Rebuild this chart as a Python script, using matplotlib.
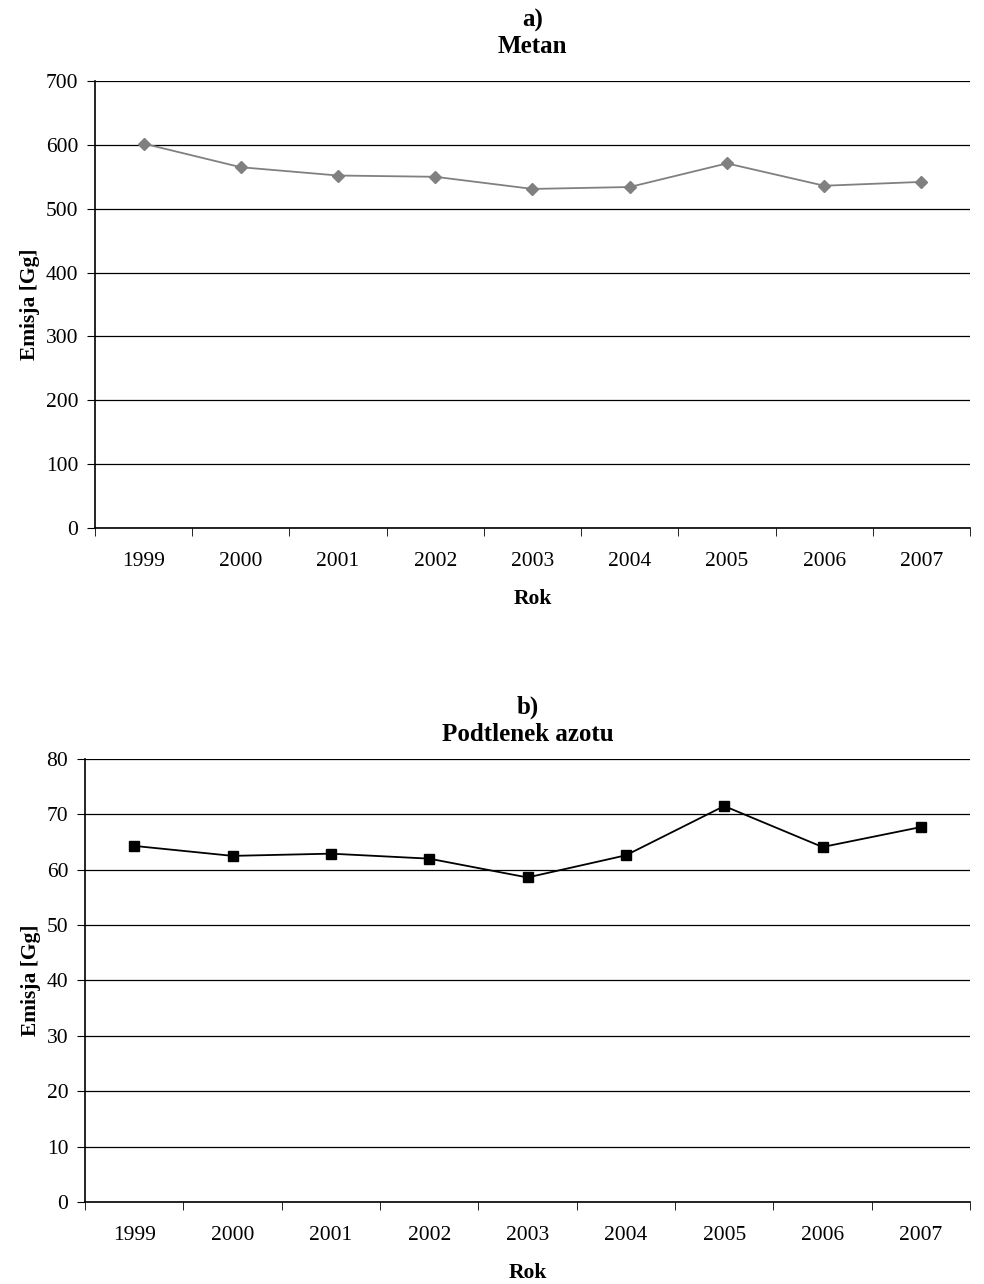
import matplotlib as mpl
mpl.use('Agg')
import matplotlib.pyplot as plt

plt.rcParams['font.family'] = ['Liberation Serif', 'DejaVu Serif']

years = ['1999', '2000', '2001', '2002', '2003', '2004', '2005', '2006', '2007']
metan = [602, 565, 552, 550, 531, 534, 571, 536, 542]
podtlenek = [64.3, 62.5, 62.9, 62.0, 58.6, 62.6, 71.5, 64.1, 67.7]


def draw(ax, vals, ymax, step, title, tpad, color, marker, msize):
    x = list(range(len(years)))
    ax.plot(x, vals, color=color, marker=marker, markersize=msize, linewidth=1.3,
            markeredgecolor=color, markerfacecolor=color)
    ax.set_xlim(-0.5, len(years) - 0.5)
    ax.set_ylim(0, ymax)
    ax.set_yticks(range(0, ymax + 1, step))
    ax.yaxis.grid(True, color='black', linewidth=0.9)
    ax.set_axisbelow(True)
    # category labels in the middle, tick marks between categories
    ax.set_xticks(x)
    ax.set_xticklabels(years, fontsize=15.5)
    ax.tick_params(axis='x', which='major', length=0, pad=17)
    ax.set_xticks([i - 0.5 for i in range(len(years) + 1)], minor=True)
    ax.tick_params(axis='x', which='minor', length=6, direction='out', color='black')
    ax.tick_params(axis='y', labelsize=15.5, length=6, direction='out', pad=6)
    for s in ['top', 'right']:
        ax.spines[s].set_visible(False)
    ax.spines['left'].set_linewidth(1.2)
    ax.spines['bottom'].set_linewidth(1.2)
    ax.set_xlabel('Rok', fontsize=15.5, fontweight='bold', labelpad=13)
    ax.set_ylabel('Emisja [Gg]', fontsize=15.5, fontweight='bold', labelpad=4)
    ax.set_title(title, fontsize=18, fontweight='bold', pad=tpad, linespacing=1.2)


fig = plt.figure(figsize=(9.84, 12.84), dpi=100)

ax1 = fig.add_axes([0.0965, 0.5888, 0.8893, 0.3481])
draw(ax1, metan, 700, 100, 'a)\nMetan', 20, '#808080', 'D', 6)

ax2 = fig.add_axes([0.0864, 0.0639, 0.8994, 0.345])
draw(ax2, podtlenek, 80, 10, 'b)\nPodtlenek azotu', 13, 'black', 's', 7)

plt.savefig('out.png', dpi=100)
